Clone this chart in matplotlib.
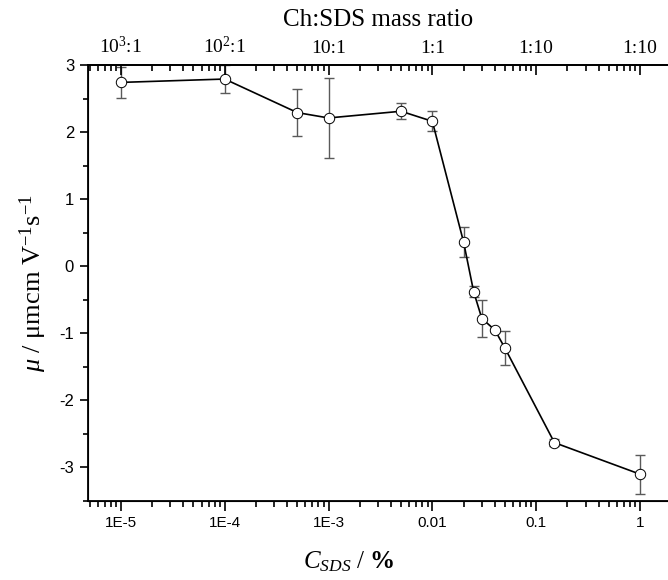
import matplotlib
matplotlib.use("Agg")
import matplotlib.pyplot as plt
import matplotlib.ticker as mticker
import numpy as np

# SDS concentration (%) and electrophoretic mobility
c_sds = [1e-5, 1e-4, 5e-4, 1e-3, 5e-3, 0.01, 0.02, 0.025, 0.03, 0.04, 0.05, 0.15, 1.0]
mu = [2.74, 2.79, 2.29, 2.21, 2.31, 2.16, 0.36, -0.38, -0.78, -0.95, -1.22, -2.63, -3.10]
mu_err = [0.23, 0.21, 0.35, 0.60, 0.12, 0.15, 0.22, 0.08, 0.28, 0.03, 0.25, 0.05, 0.29]

bottom_ticks = [1e-5, 1e-4, 1e-3, 1e-2, 1e-1, 1]
bottom_labels = ["1E-5", "1E-4", "1E-3", "0.01", "0.1", "1"]
top_labels = [r"10$^3$:1", r"10$^2$:1", "10:1", "1:1", "1:10", "1:10"]

serif = "Liberation Serif"
sans = "Liberation Sans"
plt.rcParams['mathtext.fontset'] = 'custom'
plt.rcParams['mathtext.rm'] = serif
plt.rcParams['mathtext.it'] = serif + ':italic'
plt.rcParams['mathtext.bf'] = serif + ':bold'
plt.rcParams['axes.unicode_minus'] = False

fig = plt.figure(figsize=(6.68, 5.8), dpi=100)
ax = fig.add_axes([0.1317, 0.1362, 0.8683, 0.7518])

ax.errorbar(c_sds, mu, yerr=mu_err, fmt='none', ecolor='#5a5a5a', elinewidth=1.0,
            capsize=3.5, capthick=1.0, zorder=2)
ax.plot(c_sds, mu, '-', color='black', lw=1.2, zorder=3)
ax.plot(c_sds, mu, 'o', ms=7.5, mfc='white', mec='black', mew=0.7, zorder=4)

ax.set_xscale('log')
ax.set_xlim(10 ** -5.317, 10 ** 0.27)
ax.set_ylim(-3.5, 3)
ax.set_xticks(bottom_ticks)
ax.set_xticklabels(bottom_labels, fontfamily=sans, fontsize=11)
ax.xaxis.set_minor_locator(mticker.LogLocator(base=10, subs=np.arange(2, 10), numticks=20))
ax.xaxis.set_minor_formatter(mticker.NullFormatter())
ax.yaxis.set_major_locator(mticker.MultipleLocator(1))
ax.yaxis.set_minor_locator(mticker.MultipleLocator(0.5))
ax.yaxis.set_major_formatter(mticker.FormatStrFormatter('%d'))
for lab in ax.get_yticklabels():
    lab.set_fontfamily(sans)
ax.tick_params(axis='y', labelsize=12, direction='out', length=6, width=1.2, pad=4)
ax.tick_params(axis='y', which='minor', direction='out', length=3.5, width=1.2)
ax.tick_params(axis='x', direction='out', length=7, width=1.2, pad=4)
ax.tick_params(axis='x', which='minor', direction='out', length=4, width=1.2)
ax.tick_params(right=False, which='both')
ax.spines['right'].set_visible(False)
for s in ['left', 'bottom', 'top']:
    ax.spines[s].set_linewidth(1.3)

ax.set_ylabel(r"$\mathit{\mu}$ / μmcm V$^{-1}$s$^{-1}$", fontfamily=serif, fontsize=19)
ax.yaxis.set_label_coords(-0.068, 0.5)
ax.set_xlabel(r"$C_{SDS}$ / $\mathbf{\%}$", fontfamily=serif, fontsize=18)
ax.xaxis.set_label_coords(0.45, -0.11)

top = ax.twiny()
top.set_xscale('log')
top.set_xlim(ax.get_xlim())
top.set_xticks(bottom_ticks)
top.set_xticklabels(top_labels, fontfamily=serif, fontsize=14)
top.xaxis.set_minor_locator(mticker.LogLocator(base=10, subs=np.arange(2, 10), numticks=20))
top.xaxis.set_minor_formatter(mticker.NullFormatter())
top.tick_params(axis='x', direction='in', length=7, width=1.2, pad=6)
top.tick_params(axis='x', which='minor', direction='in', length=4, width=1.2)
top.spines['right'].set_visible(False)
top.spines['top'].set_linewidth(1.3)
top.set_xlabel("Ch:SDS mass ratio", fontfamily=serif, fontsize=18, labelpad=7)

fig.savefig('out.png', dpi=100)
